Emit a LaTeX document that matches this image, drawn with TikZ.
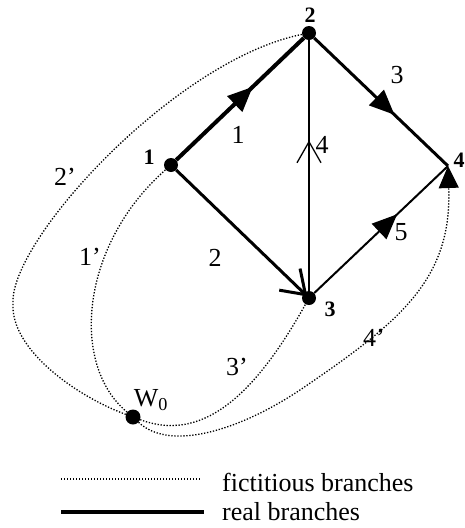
\documentclass[tikz,border=0pt]{standalone}
\usepackage{fontspec}
\setmainfont{Liberation Serif}
\usetikzlibrary{arrows.meta, positioning, decorations.markings}

\begin{document}
\begin{tikzpicture}[
    x=1pt, y=-1pt,
    every node/.style={font=\fontsize{26}{30}\selectfont, inner sep=0pt},
    junction/.style={circle, fill=black, minimum size=14pt, inner sep=0pt},
    numlabel/.style={font=\fontsize{22}{26}\selectfont\bfseries},
    realbranch/.style={line width=#1, draw=black},
    fictbranch/.style={line width=1.3pt, dash pattern=on 1.3pt off 1.7pt},
    fullarrow/.style={postaction={decorate}, decoration={markings, mark=at position #1 with {\arrow{Triangle[length=25pt,width=21pt]}}}},
    openarrow/.style={postaction={decorate}, decoration={markings, mark=at position #1 with {\arrow{Straight Barb[length=21pt,width=24pt]}}}}
]
\useasboundingbox (0,0) rectangle (465,528);

% Junctions
\node (n1) [junction] at (171,165) {};
\node (n2) [junction] at (309,33) {};
\node (n3) [junction] at (309,298) {};
\coordinate (n4) at (448,166);
\node (w0) [junction, minimum size=15pt] at (133,417) {};

\node [numlabel] at (149,157) {1};
\node [numlabel] at (310,15) {2};
\node [numlabel] at (330,309) {3};
\node [numlabel] at (459,160) {4};
\node (w0label) at (151,400) {W\textsubscript{0}};

% Real branches
\draw [realbranch=4pt, fullarrow=0.6] (n1) -- (n2);
\draw [realbranch=3pt, fullarrow=0.6] (n2) -- (n4);
\draw [realbranch=3pt, -{Straight Barb[length=22pt,width=30pt]}, shorten >=-5pt] (n1) -- (n3);
\draw [realbranch=1.3pt, openarrow=0.6] (n3) -- (n2);
\draw [realbranch=2pt, fullarrow=0.62] (n3) -- (n4);

\node at (238,135) {1};
\node at (215,258) {2};
\node at (397,75) {3};
\node at (322,145) {4};
\node at (401,232) {5};

% Fictitious branches
\draw [fictbranch] (w0) .. controls (78,397) and (10,350) .. (13,303)
    .. controls (10,240) and (175,60) .. (n2);
\draw [fictbranch] (w0) .. controls (70,365) and (80,245) .. (n1);
\draw [fictbranch] (w0) .. controls (200,442) and (252,400) .. (n3);
\draw [fictbranch, -{Triangle[length=22pt,width=20pt]}] (w0) .. controls (170,452) and (240,430) .. (300,390)
    .. controls (400,322) and (452,280) .. (n4);

\node at (65,177) {2’};
\node at (90,257) {1’};
\node at (237,367) {3’};
\node at (374,338) {4’};

% Legend
\coordinate (fict1) at (61,479);
\coordinate (fict2) at (200,479);
\coordinate (real1) at (61,512);
\coordinate (real2) at (204,512);
\draw [fictbranch] (fict1) -- (fict2);
\draw [realbranch=4pt] (real1) -- (real2);
\node (fictlabel) [right=22pt of fict2, yshift=-3pt] {fictitious branches};
\node (reallabel) [right=18pt of real2] {real branches};

\end{tikzpicture}
\end{document}
